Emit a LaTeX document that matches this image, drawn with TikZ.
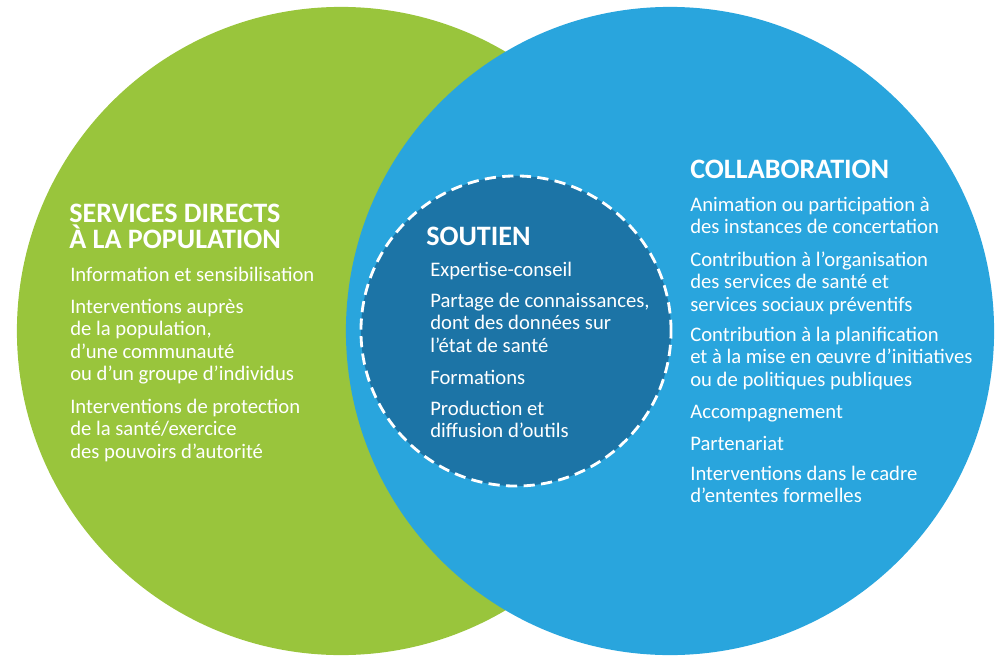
\documentclass[tikz,border=0pt]{standalone}
\usepackage{fontspec}
\setmainfont{Carlito}
\usepackage{tikz}

\definecolor{vert}{HTML}{99C53C}
\definecolor{bleu}{HTML}{29A5DD}
\definecolor{bleufonce}{HTML}{1C74A6}

\begin{document}
\begin{tikzpicture}[x=0.025cm, y=-0.025cm,
            zone/.style = {circle, inner sep=0pt, minimum size=16.2cm},
            titre/.style = {anchor=base west, inner sep=0pt, text=white, align=left, font=\fontsize{20}{17.8}\selectfont\bfseries},
            item/.style = {anchor=base west, inner sep=0pt, text=white, align=left, font=\fontsize{14.7}{16}\selectfont}]
            \useasboundingbox (0,0) rectangle (998,657);
            \node[zone, fill=vert] (services) at (341,331) {};
            \node[zone, fill=bleu] (collab) at (670,331) {};
            \node[circle, inner sep=0pt, minimum size=7.75cm, fill=bleufonce, draw=white, line width=2pt, dash pattern=on 8pt off 4.5pt] (soutien) at (516,331) {};
            \node[titre] (t1) at (69,248) {SERVICES DIRECTS\\À LA POPULATION};
            \node[item] (s1) at (70,281) {Information et sensibilisation};
            \node[item] (s2) at (70,380.5) {Interventions auprès\\de la population,\\d’une communauté\\ou d’un groupe d’individus};
            \node[item] (s3) at (70,458) {Interventions de protection\\de la santé/exercice\\des pouvoirs d’autorité};
            \node[titre] (t2) at (426,245) {SOUTIEN};
            \node[item] (m1) at (430,276) {Expertise-conseil};
            \node[item] (m2) at (430,352) {Partage de connaissances,\\dont des données sur\\l’état de santé};
            \node[item] (m3) at (430,384) {Formations};
            \node[item] (m4) at (430,437.5) {Production et\\diffusion d’outils};
            \node[titre] (t3) at (690,178) {COLLABORATION};
            \node[item] (c1) at (690,233.5) {Animation ou participation à\\des instances de concertation};
            \node[item] (c2) at (690,311) {Contribution à l’organisation\\des services de santé et\\services sociaux préventifs};
            \node[item] (c3) at (690,386) {Contribution à la planification\\et à la mise en œuvre d’initiatives\\ou de politiques publiques};
            \node[item] (c4) at (690,418) {Accompagnement};
            \node[item] (c5) at (690,450) {Partenariat};
            \node[item] (c6) at (690,502.5) {Interventions dans le cadre\\d’ententes formelles};
        \end{tikzpicture}
\end{document}
